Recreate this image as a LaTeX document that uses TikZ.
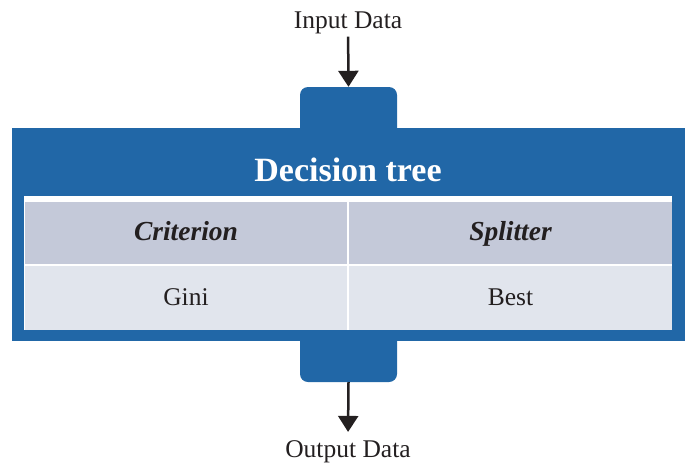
\documentclass[tikz,border=0pt]{standalone}
\usepackage{fontspec}
\setmainfont{Liberation Serif}
\usetikzlibrary{positioning,arrows.meta}

\definecolor{treeblue}{RGB}{33,103,167}
\definecolor{headgray}{RGB}{196,201,217}
\definecolor{rowgray}{RGB}{225,229,237}
\definecolor{inkblack}{RGB}{35,31,32}

\tikzset{
  tab/.style={fill=treeblue,rounded corners=8pt,inner sep=0pt,
    minimum width=97pt,minimum height=72pt},
  cell/.style={inner sep=0pt,text=inkblack,minimum height=62pt,
    text height=20pt,text depth=5pt},
  plain/.style={font=\fontsize{25.5}{30}\selectfont,text=inkblack,inner sep=3pt},
  flow/.style={draw=inkblack,line width=2.5pt,-{Triangle[width=20pt,length=16pt]}}
}

\begin{document}
\begin{tikzpicture}[x=1pt,y=-1pt]
  \useasboundingbox (0,0) rectangle (690,463);
  % tabs first, the box hides their inner ends
  \node[tab] (intab) at (348.5,123) {};
  \node[tab] (outtab) at (348.5,346) {};
  \node[fill=treeblue,inner sep=0pt,minimum width=673pt,minimum height=213pt]
    (box) at (348.5,234.5) {};
  \node[font=\fontsize{34}{40}\selectfont\bfseries,text=white]
    (title) at (348,170) {Decision tree};
  % table
  \node[fill=white,inner sep=0pt,minimum width=648pt,minimum height=134pt]
    (table) at (348,263) {};
  \node[cell,fill=headgray,minimum width=322pt,
    font=\fontsize{27.5}{32}\selectfont\bfseries\itshape]
    (crit) at (186,233) {Criterion};
  \node[cell,fill=headgray,minimum width=323pt,
    font=\fontsize{27.5}{32}\selectfont\bfseries\itshape]
    (split) at (510.5,233) {Splitter};
  \node[cell,fill=rowgray,minimum width=322pt,minimum height=64pt,
    font=\fontsize{25.5}{30}\selectfont] (gini) at (186,298) {Gini};
  \node[cell,fill=rowgray,minimum width=323pt,minimum height=64pt,
    font=\fontsize{25.5}{30}\selectfont] (best) at (510.5,298) {Best};
  % data in and out
  \node[plain,anchor=base] (input) at (348,28) {Input Data};
  \node[plain,anchor=base] (output) at (348,457) {Output Data};
  \draw[flow] (input) -- (intab.north);
  \draw[flow,shorten >=5pt] (outtab.south) -- (output.north);
\end{tikzpicture}
\end{document}
